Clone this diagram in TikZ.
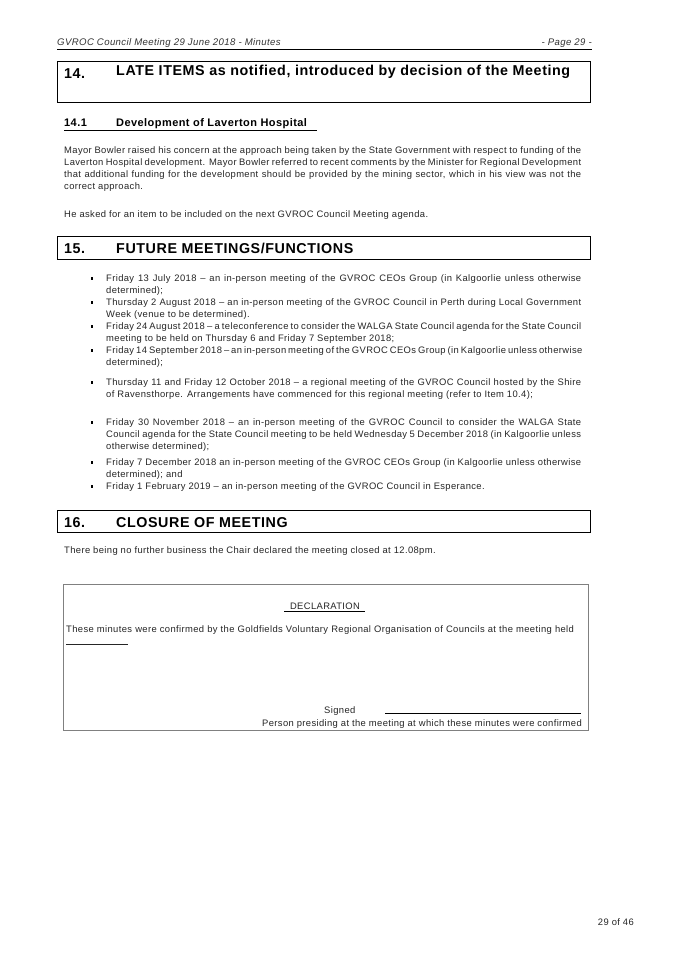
\documentclass[tikz,border=0pt]{standalone}
\usepackage{fontspec}
\setmainfont[LetterSpace=4]{Liberation Sans}
\begin{document}
\hyphenpenalty=10000 \exhyphenpenalty=10000
\begin{tikzpicture}[x=1pt,y=-1pt,
  body/.style={anchor=north west,inner sep=0pt,font=\fontsize{9.4}{12}\selectfont,align=justify,text=black!85},
  sect/.style={draw,line width=1pt},
  stitle/.style={anchor=base west,inner sep=0pt,font=\fontsize{14.3}{16}\selectfont\bfseries},
  bul/.style={anchor=north west,inner sep=0pt,font=\fontsize{9.4}{12}\selectfont,align=justify,text width=475pt,text=black!85}]
\useasboundingbox (0,0) rectangle (675,955);
\fill[white] (0,0) rectangle (675,955);
% header
\node[anchor=base west,inner sep=0pt,font=\fontsize{9.6}{10}\selectfont\itshape,text=black!80] (hl) at (57,46) {GVROC Council Meeting 29 June 2018 - Minutes};
\node[anchor=base east,inner sep=0pt,font=\fontsize{9.6}{10}\selectfont\itshape,text=black!80] (hr) at (592,46) {- Page 29 -};
\draw[line width=0.5pt] (57,49.5) -- (592,49.5);
% section 14
\draw[sect] (57,62) rectangle (590,103);
\node[stitle] (n14) at (64,79) {14.};
\node[anchor=north west,inner sep=0pt,font=\fontsize{14.3}{19}\selectfont\bfseries,align=justify,text width=465pt] (t14) at (116,65) {LATE ITEMS as notified, introduced by decision of the Meeting};
\node[anchor=base west,inner sep=0pt,font=\fontsize{11}{11}\selectfont\bfseries] (s141) at (64,127) {14.1};
\node[anchor=base west,inner sep=0pt,font=\fontsize{11}{11}\selectfont\bfseries] (s141t) at (116,127) {Development of Laverton Hospital};
\draw[line width=0.6pt] (64,130) -- (317,130);
\node[body,text width=517pt] (p1) at (64,146) {Mayor Bowler raised his concern at the approach being taken by the State Government with respect to funding of the Laverton Hospital development. Mayor Bowler referred to recent comments by the Minister for Regional Development that additional funding for the development should be provided by the mining sector, which in his view was not the correct approach.};
\node[body,text width=517pt] (p2) at (64,210) {He asked for an item to be included on the next GVROC Council Meeting agenda.};
% section 15
\draw[sect] (57,236) rectangle (590,259);
\node[stitle] (n15) at (64,253) {15.};
\node[stitle] (t15) at (116,253) {FUTURE MEETINGS/FUNCTIONS};
\foreach \y/\t in {
 274/{Friday 13 July 2018 -- an in-person meeting of the GVROC CEOs Group (in Kalgoorlie unless otherwise determined);},
 298/{Thursday 2 August 2018 -- an in-person meeting of the GVROC Council in Perth during Local Government Week (venue to be determined).},
 322/{Friday 24 August 2018 -- a teleconference to consider the WALGA State Council agenda for the State Council meeting to be held on Thursday 6 and Friday 7 September 2018;},
 346/{Friday 14 September 2018 -- an in-person meeting of the GVROC CEOs Group (in Kalgoorlie unless otherwise determined);},
 378/{Thursday 11 and Friday 12 October 2018 -- a regional meeting of the GVROC Council hosted by the Shire of Ravensthorpe. Arrangements have commenced for this regional meeting (refer to Item 10.4);},
 418/{Friday 30 November 2018 -- an in-person meeting of the GVROC Council to consider the WALGA State Council agenda for the State Council meeting to be held Wednesday 5 December 2018 (in Kalgoorlie unless otherwise determined);},
 458/{Friday 7 December 2018 an in-person meeting of the GVROC CEOs Group (in Kalgoorlie unless otherwise determined); and},
 482/{Friday 1 February 2019 -- an in-person meeting of the GVROC Council in Esperance.}}
 {\node[bul] at (106,\y) {\t};
  \fill (90.5,\y+3) rectangle ++(2.2,2.8);}
% section 16
\draw[sect] (57,510) rectangle (590,532);
\node[stitle] (n16) at (64,527) {16.};
\node[stitle] (t16) at (116,527) {CLOSURE OF MEETING};
\node[body,text width=517pt] (p3) at (64,546) {There being no further business the Chair declared the meeting closed at 12.08pm.};
% declaration
\draw[black!50,line width=0.6pt] (63,584) rectangle (588,730);
\node[anchor=base,inner sep=0pt,font=\fontsize{9.4}{12}\selectfont,text=black!85] (dec) at (325,609) {DECLARATION};
\draw[line width=0.4pt] (284,611) -- (365,611);
\node[body,text width=517pt,align=left] (p4) at (66,625) {These minutes were confirmed by the Goldfields Voluntary Regional Organisation of Councils at the meeting held \rule{62pt}{0.4pt}};
\node[anchor=base west,inner sep=0pt,font=\fontsize{9.4}{12}\selectfont,text=black!85] (sg) at (324,713) {Signed};
\draw[line width=0.4pt] (385,713) -- (581,713);
\node[anchor=base east,inner sep=0pt,font=\fontsize{9.4}{12}\selectfont,text=black!85] (pp) at (582,726) {Person presiding at the meeting at which these minutes were confirmed};
% footer
\node[anchor=base east,inner sep=0pt,font=\fontsize{9.4}{12}\selectfont,text=black!85] (ft) at (634,925) {29 of 46};
\end{tikzpicture}
\end{document}
